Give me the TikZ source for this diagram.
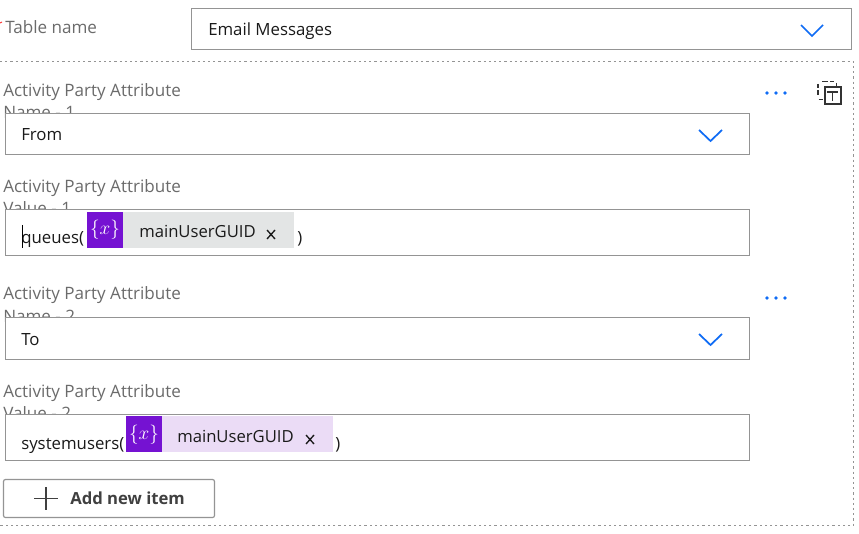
\documentclass[tikz,border=0pt]{standalone}
\usepackage{fontspec}
\setmainfont{Open Sans}
\definecolor{lbl}{HTML}{6B6B6B}
\definecolor{bordr}{HTML}{949494}
\definecolor{blu}{HTML}{0F6CF5}
\definecolor{purp}{HTML}{7512D2}
\definecolor{chipg}{HTML}{E3E5E5}
\definecolor{chipl}{HTML}{EBDCF6}
\definecolor{ink}{HTML}{1A1A1A}
\tikzset{
 lab/.style={anchor=base west,inner sep=0,text=lbl,font=\fontsize{12.8}{15}\selectfont},
 txt/.style={anchor=base west,inner sep=0,text=ink,font=\fontsize{12.6}{15}\selectfont},
 chiptxt/.style={anchor=base west,inner sep=0,text=ink,font=\fontsize{12.5}{15}\selectfont},
 varglyph/.style={anchor=base,inner sep=0,text=white,font=\fontsize{14}{16}\selectfont},
 fieldbox/.style={draw=bordr,fill=white,line width=0.9pt},
 chev/.style={draw=blu,line width=1.3pt},
 dots/.style={fill=blu,circle,inner sep=0,minimum size=2.7pt},
 dotline/.style={draw=black!42,line width=0.75pt,dash pattern=on 1.7pt off 2.2pt},
 iconline/.style={draw=black!80,line width=1.2pt},
}
\begin{document}
\begin{tikzpicture}[x=0.75pt,y=-0.75pt]
\useasboundingbox (0,0) rectangle (859,534);
\fill[white] (0,0) rectangle (859,534);
% table
\draw[red!80,line width=0.8pt] (0,23) -- (2,22);
\node[lab] (tn) at (5,34) {Table name};
\draw[fieldbox] (191.5,8.5) rectangle (851.5,49.5);
\node[txt] (em) at (208,36) {Email Messages};
\draw[chev] (801,25) -- (812,36) -- (823,25);
% dotted
\draw[dotline] (0,61.5) -- (853.5,61.5) -- (853.5,525.5) -- (0,525.5);
% group 1
\node[lab] (l1) at (3,97) {Activity Party Attribute};
\node[lab] (l1b) at (3,119) {Name - 1};
\draw[fieldbox] (5.5,113.5) rectangle (749.5,154.5);
\node[txt] (v1) at (21,141) {From};
\draw[chev] (699,130) -- (710.5,141) -- (722,130);
\foreach \x in {767,776,785} \node[dots] at (\x,93) {};
% icon
\draw[iconline] (822,81.5) -- (828,81.5) (830,81.5) -- (834,81.5) (836.5,83) -- (836.5,87);
\draw[iconline] (818,84) -- (818,88) (818,90.5) -- (818,95) (818.5,99.5) -- (823,99.5);
\draw[draw=black!80,line width=1.5pt] (824.5,87.5) rectangle (840.5,104);
\draw[draw=black!80,line width=1.3pt] (827,92) -- (838,92) (832.5,92) -- (832.5,101);
% group 2
\node[lab] (l2) at (3,192.5) {Activity Party Attribute};
\node[lab] (l2b) at (3,215) {Value - 1};
\draw[fieldbox] (5.5,209.5) rectangle (749.5,255.5);
\node[txt] (v2) at (21,244) {queues(};
\draw[line width=0.7pt,black] (22.5,225) -- (22.5,248);
\fill[chipg] (123,212) rectangle (294,248);
\fill[purp] (87,212) rectangle (123,248);
\node[varglyph] (x1) at (105,235) {$\{x\}$};
\node[chiptxt] (c1) at (139,238) {mainUserGUID};
\draw[line width=1pt,ink] (267,230) -- (275,239) (275,230) -- (267,239);
\node[txt] (p1) at (297,244) {)};
\foreach \x in {767,776,785} \node[dots] at (\x,298) {};
% group 3
\node[lab] (l3) at (3,300) {Activity Party Attribute};
\node[lab] (l3b) at (3,322) {Name - 2};
\draw[fieldbox] (5.5,317.5) rectangle (749.5,359.5);
\node[txt] (v3) at (21,345) {To};
\draw[chev] (699,334) -- (710.5,345) -- (722,334);
% group 4
\node[lab] (l4) at (3,397) {Activity Party Attribute};
\node[lab] (l4b) at (3,419) {Value - 2};
\draw[fieldbox] (5.5,414.5) rectangle (749.5,460.5);
\node[txt] (v4) at (21,449) {systemusers(};
\fill[chipl] (162,416) rectangle (333,452);
\fill[purp] (126,416) rectangle (162,452);
\node[varglyph] (x2) at (144,439) {$\{x\}$};
\node[chiptxt] (c2) at (177,442) {mainUserGUID};
\draw[line width=1pt,ink] (306,435) -- (314,444) (314,435) -- (306,444);
\node[txt] (p2) at (335,449) {)};
% button
\draw[draw=bordr,line width=0.9pt,rounded corners=1.5pt,fill=white] (3.5,479.5) rectangle (214.5,517.5);
\draw[draw=black!75,line width=1.3pt] (34,498.5) -- (58,498.5) (46,487) -- (46,510);
\node[anchor=base west,inner sep=0,text=black!75,font=\fontsize{12.5}{15}\selectfont\bfseries] (add) at (70,504) {Add new item};
\end{tikzpicture}
\end{document}
